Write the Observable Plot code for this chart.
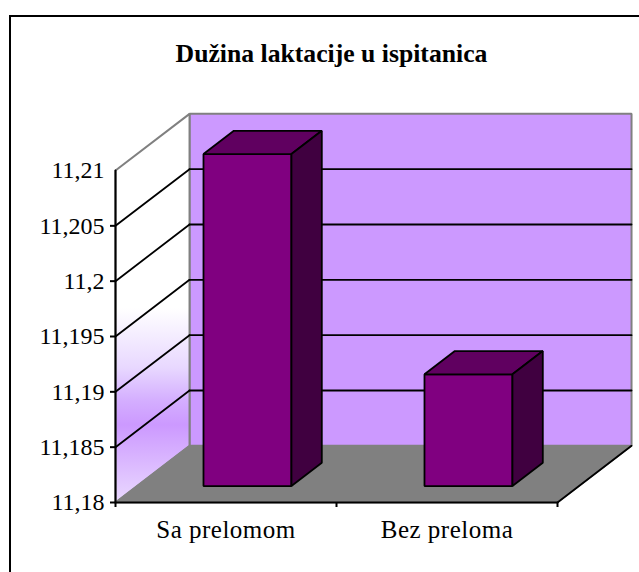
<!DOCTYPE html>
<html><head><meta charset="utf-8">
<script src="https://cdn.jsdelivr.net/npm/d3@7"></script>
<script src="https://cdn.jsdelivr.net/npm/@observablehq/plot@0.6"></script>
<style>
html,body{margin:0;padding:0;background:#fff;width:639px;height:572px;overflow:hidden}
#border{position:absolute;left:9px;top:15px;right:0;bottom:0;border-left:2px solid #000;border-top:2px solid #000;pointer-events:none}
#chart g[aria-label="x-axis tick label"]{letter-spacing:0.5px}
</style></head><body>
<div id="chart"></div><div id="border"></div>
<script>
const chartTitle = "Dužina laktacije u ispitanica";
const categories = ["Sa prelomom", "Bez preloma"];
const values = [11.21, 11.1901];
const yTicks = [11.18, 11.185, 11.19, 11.195, 11.2, 11.205, 11.21];
const gridValues = [11.185, 11.19, 11.195, 11.2, 11.205];
const yMin = 11.18, yMax = 11.21, xMin = 0, xMax = categories.length;

// oblique projection: one full unit of depth, expressed in data units
const depthX = 0.335, depthY = 0.00512;
const barWidth = 0.398, barDepthFront = 0.29, barDepthBack = 0.7;
const at = (x, y, d = 0) => ({x: x + d * depthX, y: y + d * depthY});

const face = (points, fill, stroke, strokeWidth = 1.8) =>
  Plot.line(points, {x: "x", y: "y", curve: "linear-closed", fill, stroke, strokeWidth, strokeLinejoin: "miter"});
const seg = (a, b, stroke, strokeWidth = 1.8) =>
  Plot.line([a, b], {x: "x", y: "y", stroke, strokeWidth});

const defs = () => {
  const d = d3.create("svg:defs");
  const g = d.append("linearGradient").attr("id", "sideWall").attr("x1", 0).attr("x2", 0).attr("y1", 0).attr("y2", 1);
  [[0, "#ffffff"], [0.5, "#ffffff"], [0.566, "#f5eeff"], [0.653, "#e8d8ff"], [0.738, "#d4aeff"], [0.8, "#cc99ff"], [1, "#ead9ff"]].forEach(([o, c]) =>
    g.append("stop").attr("offset", o).attr("stop-color", c));
  return d.node();
};

const barMarks = categories.flatMap((c, i) => {
  const x0 = i + 0.5 - barWidth / 2, x1 = i + 0.5 + barWidth / 2, v = values[i];
  const f = barDepthFront, b = barDepthBack;
  return [
    face([at(x0, v, f), at(x1, v, f), at(x1, yMin, f), at(x0, yMin, f)], "#800080", "#000"),
    face([at(x0, v, f), at(x1, v, f), at(x1, v, b), at(x0, v, b)], "#600060", "#000"),
    face([at(x1, v, f), at(x1, v, b), at(x1, yMin, b), at(x1, yMin, f)], "#400040", "#000")
  ];
});

const chart = Plot.plot({
  width: 639, height: 572,
  marginLeft: 115, marginRight: 82, marginTop: 170, marginBottom: 70,
  style: {fontFamily: "'Liberation Serif', serif", fontSize: "24px", color: "#000", background: "#fff", overflow: "visible"},
  x: {domain: [xMin, xMax], range: [115, 557]},
  y: {domain: [yMin, yMax], range: [502, 170]},
  marks: [
    defs,
    face([at(xMin, yMin, 1), at(xMax, yMin, 1), at(xMax, yMax, 1), at(xMin, yMax, 1)], "#cc99ff", "#808080", 2),
    face([at(xMin, yMin), at(xMin, yMin, 1), at(xMin, yMax, 1), at(xMin, yMax)], "url(#sideWall)", "#808080", 2),
    face([at(xMin, yMin), at(xMax, yMin), at(xMax, yMin, 1), at(xMin, yMin, 1)], "#808080", "#808080", 1.5),
    ...gridValues.flatMap(v => [
      seg(at(xMin, v), at(xMin, v, 1), "#000"),
      seg(at(xMin, v, 1), at(xMax, v, 1), "#000")
    ]),
    seg(at(xMax, yMin), at(xMax, yMin, 1), "#000"),
    ...barMarks,
    seg(at(xMin, yMin), at(xMin, yMax), "#000", 2),
    seg(at(xMin, yMin), at(xMax, yMin), "#000", 2),
    Plot.axisY({ticks: yTicks, tickSize: 0, tickPadding: 11, tickFormat: d => String(+d.toFixed(3)).replace(".", ","), label: null, fontSize: 24}),
    Plot.axisY({ticks: yTicks.slice(0, -1), tickSize: 5, tickFormat: () => "", label: null, stroke: "#000", strokeWidth: 2, strokeOpacity: 1}),
    Plot.axisX({ticks: [0, 1, 2], tickSize: 5, tickFormat: () => "", label: null, stroke: "#000", strokeWidth: 2, strokeOpacity: 1}),
    Plot.axisX({ticks: [0.5, 1.5], tickSize: 0, tickPadding: 18, tickFormat: d => categories[Math.floor(d)], label: null, fontSize: 25}),
    Plot.text([chartTitle], {frameAnchor: "top", dx: -5, dy: -127, fontSize: 25.7, fontWeight: "bold", fill: "#000"})
  ]
});
document.getElementById("chart").appendChild(chart);
</script>
</body></html>
